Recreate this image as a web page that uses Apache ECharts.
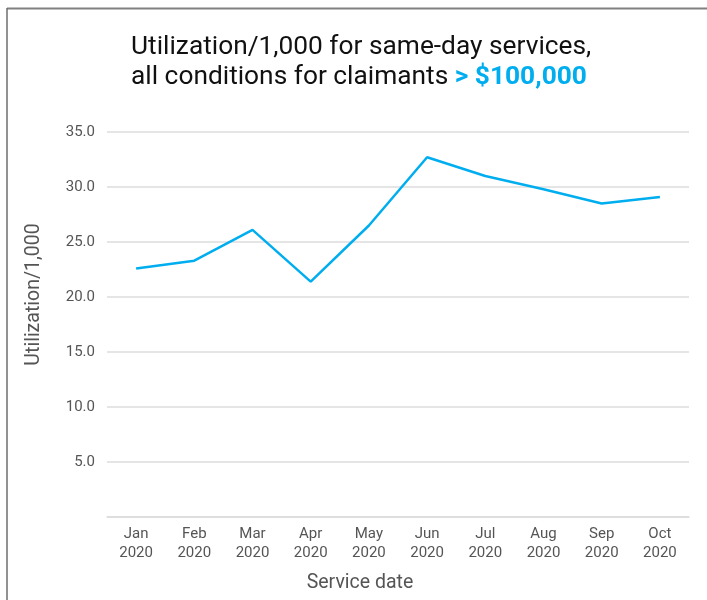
<!DOCTYPE html>
<html>
<head>
<meta charset="utf-8">
<script src="https://cdn.jsdelivr.net/npm/echarts@6/dist/echarts.min.js"></script>
<style>
html,body{margin:0;padding:0;background:#fff;}
#chart{width:707px;height:600px;}
</style>
</head>
<body>
<div id="chart"></div>
<script>
var months = ['Jan\n2020','Feb\n2020','Mar\n2020','Apr\n2020','May\n2020','Jun\n2020','Jul\n2020','Aug\n2020','Sep\n2020','Oct\n2020'];
var utilization = [22.6, 23.3, 26.1, 21.4, 26.5, 32.7, 31.0, 29.8, 28.5, 29.1];
var titleLine1 = 'Utilization/1,000 for same-day services,';
var titleLine2 = 'all conditions for claimants ';
var titleHighlight = '> $100,000';
var yAxisName = 'Utilization/1,000';
var xAxisName = 'Service date';

var chart = echarts.init(document.getElementById('chart'));
chart.setOption({
  backgroundColor: '#fff',
  animation: false,
  title: {
    text: titleLine1 + '\n' + titleLine2 + '{b|' + titleHighlight + '}',
    left: 131,
    top: 32,
    padding: 0,
    textStyle: {
      fontFamily: 'Roboto',
      fontSize: 26.3,
      fontWeight: 'normal',
      color: '#111',
      lineHeight: 30,
      rich: {
        b: { fontFamily: 'Roboto', fontSize: 26.3, fontWeight: 'bold', color: '#00AEEF', lineHeight: 30 }
      }
    }
  },
  graphic: [
    { type: 'line', shape: { x1: 7, y1: 8.5, x2: 707, y2: 8.5 }, style: { stroke: '#808080', lineWidth: 2 }, silent: true },
    { type: 'line', shape: { x1: 7, y1: 8, x2: 7, y2: 600 }, style: { stroke: '#6e6e6e', lineWidth: 1.5 }, silent: true }
  ],
  grid: { left: 107, right: 18, top: 132, bottom: 83 },
  xAxis: {
    type: 'category',
    data: months,
    boundaryGap: true,
    name: xAxisName,
    nameLocation: 'middle',
    nameGap: 56,
    nameTextStyle: { fontFamily: 'Roboto', fontSize: 19.5, color: '#555', padding: [0, 76, 0, 0] },
    axisLine: { show: true, lineStyle: { color: '#dcdcdc', width: 1.5 } },
    axisTick: { show: false },
    axisLabel: { fontFamily: 'Roboto', fontSize: 15, color: '#555', lineHeight: 19, margin: 8, interval: 0 }
  },
  yAxis: {
    type: 'value',
    min: 0,
    max: 35,
    interval: 5,
    name: yAxisName,
    nameLocation: 'middle',
    nameGap: 63,
    nameTextStyle: { fontFamily: 'Roboto', fontSize: 19.5, color: '#555', padding: [0, 0, 0, 60] },
    axisLine: { show: false },
    axisTick: { show: false },
    splitLine: { lineStyle: { color: '#dcdcdc', width: 1.5 } },
    axisLabel: {
      fontFamily: 'Roboto', fontSize: 15, color: '#555', margin: 12,
      formatter: function (v) { return v === 0 ? '' : v.toFixed(1); }
    }
  },
  series: [{
    type: 'line',
    data: utilization,
    symbol: 'none',
    lineStyle: { color: '#00AEEF', width: 2.5 },
    itemStyle: { color: '#00AEEF' }
  }]
});
</script>
</body>
</html>
